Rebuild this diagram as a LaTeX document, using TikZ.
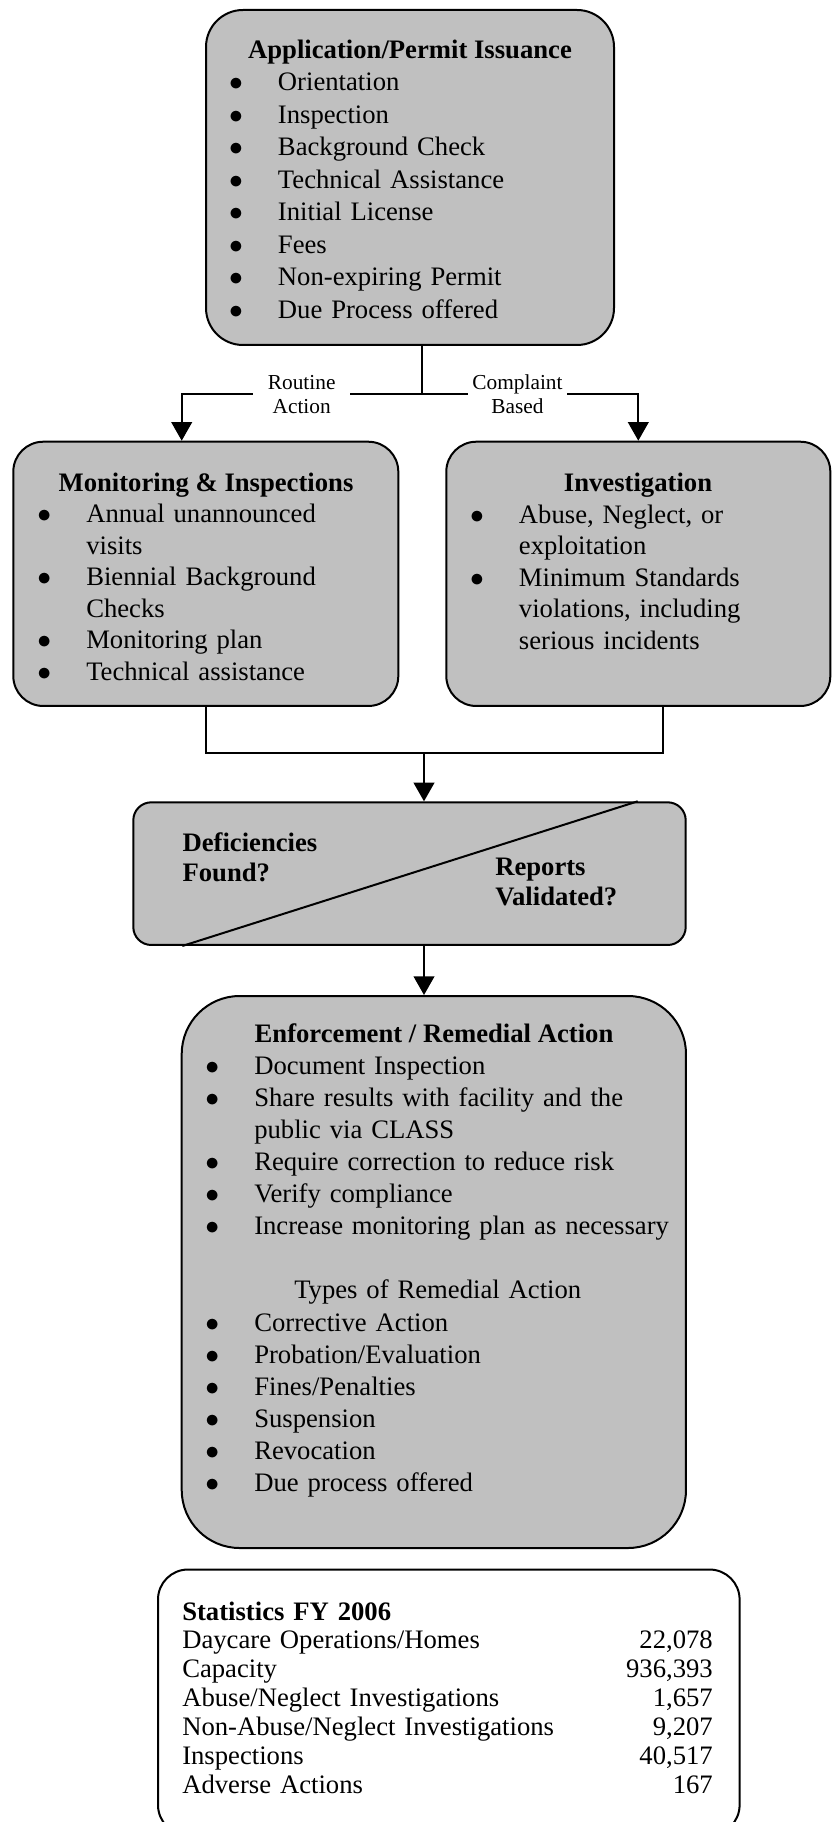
\documentclass[tikz,border=0pt]{standalone}
\usepackage{fontspec}
\setmainfont{Liberation Serif}
\usepackage{tikz}
\usetikzlibrary{arrows.meta, positioning, calc}
\usepackage{xcolor}
\definecolor{boxgray}{RGB}{192,192,192}
\newcommand{\itm}[1]{\leavevmode\llap{\makebox[0pt]{$\bullet$}\hspace*{31.5pt}}#1}
\tikzset{
    panel/.style={draw, line width=1.5pt, fill=boxgray, inner sep=0pt},
    panel white/.style={panel, fill=white},
    link/.style={line width=1.5pt},
    arrow/.style={-{Triangle[length=14pt, width=15.5pt]}, line width=1.5pt},
    heading/.style={anchor=base, inner sep=0pt, font=\fontsize{20}{24}\selectfont\bfseries},
    items/.style={anchor=base west, inner sep=0pt, text width=320pt, align=left, font=\fontsize{20}{#1}\selectfont},
    tag/.style={anchor=base, inner sep=0pt, fill=white, text width=#1, align=center, font=\fontsize{16}{18.5}\selectfont},
}

\begin{document}
\begin{tikzpicture}[x=0.75pt, y=-0.75pt]
\useasboundingbox (0,0) rectangle (837,1822);

% boxes
\node[panel, rounded corners=27.75pt, minimum width=306pt, minimum height=251.25pt] (permit) at (410,177.5) {};
\node[panel, rounded corners=22.5pt, minimum width=288.75pt, minimum height=198.2pt] (monitor) at (205.8,573.85) {};
\node[panel, rounded corners=22.5pt, minimum width=288pt, minimum height=198.2pt] (invest) at (638.3,573.85) {};
\node[panel, rounded corners=13.5pt, minimum width=414.3pt, minimum height=107pt] (decide) at (409.5,873.65) {};
\node[panel, rounded corners=43.5pt, minimum width=378.2pt, minimum height=414pt] (enforce) at (433.85,1272) {};
\node[panel white, rounded corners=22.5pt, minimum width=436.2pt, minimum height=199.1pt] (stats) at (448.8,1702.25) {};

\draw[link] ($(decide.south west)+(50,0)$) -- ($(decide.north east)+(-49,0)$);

% texts
\node[heading] (permit title) at (410,58.3) {Application/Permit Issuance};
\node[items=24.4pt] (permit list) at (277.7,90.7) {\itm{Orientation}\\ \itm{Inspection}\\ \itm{Background Check}\\
  \itm{Technical Assistance}\\ \itm{Initial License}\\ \itm{Fees}\\ \itm{Non-expiring Permit}\\ \itm{Due Process offered}};

\node[heading] (monitor title) at (206,491) {Monitoring \& Inspections};
\node[items=23.6pt] (monitor list) at (86,522.7) {\itm{Annual unannounced}\\ visits\\ \itm{Biennial Background}\\ Checks\\
  \itm{Monitoring plan}\\ \itm{Technical assistance}};

\node[heading] (invest title) at (638,491) {Investigation};
\node[items=23.6pt] (invest list) at (518.7,523.3) {\itm{Abuse, Neglect, or}\\ exploitation\\ \itm{Minimum Standards}\\
  violations, including\\ serious incidents};

\node[items=23pt, font=\fontsize{20}{23}\selectfont\bfseries] (found) at (182.3,851) {Deficiencies\\ Found?};
\node[items=23pt, font=\fontsize{20}{23}\selectfont\bfseries] (valid) at (495,875) {Reports\\ Validated?};

\node[heading] (enforce title) at (434,1042) {Enforcement / Remedial Action};
\node[items=24.1pt] (enforce list) at (254,1074) {\itm{Document Inspection}\\ \itm{Share results with facility and the}\\
  public via CLASS\\ \itm{Require correction to reduce risk}\\ \itm{Verify compliance}\\
  \itm{Increase monitoring plan as necessary}\\ \mbox{}\\ \hspace*{30pt}Types of Remedial Action\\
  \itm{Corrective Action}\\ \itm{Probation/Evaluation}\\ \itm{Fines/Penalties}\\ \itm{Suspension}\\
  \itm{Revocation}\\ \itm{Due process offered}};

\node[anchor=base west, inner sep=0pt, text width=397.9pt, font=\fontsize{20}{21.7}\selectfont] (stats list) at (182,1620) {%
  \textbf{Statistics FY 2006}\\
  Daycare Operations/Homes\hfill 22,078\\
  Capacity\hfill 936,393\\
  Abuse/Neglect Investigations\hfill 1,657\\
  Non-Abuse/Neglect Investigations\hfill 9,207\\
  Inspections\hfill 40,517\\
  Adverse Actions\hfill 167};

% connectors
\coordinate (split) at ($(permit.south)+(11.7,48.3)$);
\coordinate (merge) at (424,753);
\draw[link] (permit.south -| split) -- (split);
\draw[arrow] (split) -| ($(monitor.north)+(-24.1,0)$);
\draw[arrow] (split) -| (invest.north);
\draw[link] (monitor.south) |- (merge) -| ($(invest.south)+(25,0)$);
\draw[arrow] (merge) -- (merge |- decide.north);
\draw[arrow] (decide.south -| merge) -- (enforce.north -| merge);

\node[tag=72.75pt] (routine) at (301.7,389.3) {Routine\\ Action};
\node[tag=74pt] (complaint) at (517.5,389.3) {Complaint\\ Based};
\end{tikzpicture}
\end{document}
